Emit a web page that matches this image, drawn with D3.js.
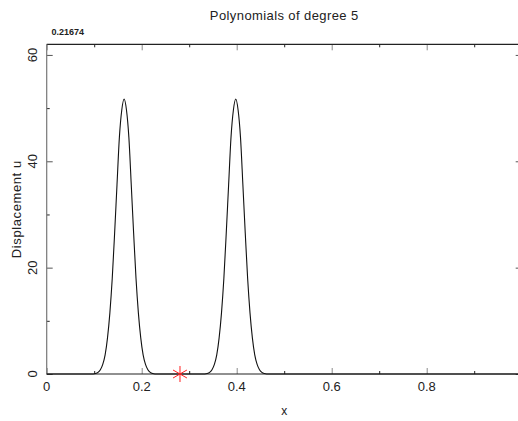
<!DOCTYPE html>
<html>
<head>
<meta charset="utf-8">
<script src="https://cdn.jsdelivr.net/npm/d3@7"></script>
<style>
  body { margin: 0; background: #fff; }
  svg { display: block; overflow: hidden; }
  text { font-family: "Liberation Sans", Arial, sans-serif; fill: #222; }
</style>
</head>
<body>
<svg id="chart"></svg>
<script>
// data
let xValues = [0,
    0.098, 0.103, 0.108, 0.113, 0.118, 0.123, 0.128, 0.133, 0.138, 0.143, 0.148, 0.153, 0.158,
    0.163, 0.168, 0.173, 0.178, 0.183, 0.188, 0.193, 0.198, 0.203, 0.208, 0.213, 0.218, 0.223, 0.228,
    0.333, 0.338, 0.343, 0.348, 0.353, 0.358, 0.363, 0.368, 0.373, 0.378, 0.383, 0.388, 0.393,
    0.398, 0.403, 0.408, 0.413, 0.418, 0.423, 0.428, 0.433, 0.438, 0.443, 0.448, 0.453, 0.458, 0.463,
    1];
let uValues = [0,
    0, 0.08, 0.3, 0.8, 1.8, 3.6, 6.8, 11.5, 18, 26.5, 35.6, 44.5, 49.6,
    51.7, 49.6, 44.5, 35.6, 26.5, 18, 11.5, 6.8, 3.6, 1.8, 0.8, 0.3, 0.08, 0,
    0, 0.08, 0.3, 0.8, 1.8, 3.6, 6.8, 11.5, 18, 26.5, 35.6, 44.5, 49.6,
    51.7, 49.6, 44.5, 35.6, 26.5, 18, 11.5, 6.8, 3.6, 1.8, 0.8, 0.3, 0.08, 0,
    0];
let markerX = [0.2806];
let markerU = [0];
let xMajorTicks = [0, 0.2, 0.4, 0.6, 0.8, 1];
let xMinorTicks = [0.1, 0.3, 0.5, 0.7, 0.9];
let yMajorTicks = [0, 20, 40, 60];
let yMinorTicks = [10, 30, 50];
let title = "Polynomials of degree 5";
let cornerText = "0.21674";

let width = 518, height = 421,
    box = {left: 46.7, right: 521.7, top: 44.3, bottom: 374};

let svg = d3.select("#chart").attr("width", width).attr("height", height);

let xScale = d3.scaleLinear().domain([0, 1]).range([box.left, box.right]);
let yScale = d3.scaleLinear().domain([0, 62]).range([box.bottom, box.top]);

// inward ticks, majors grey and longer, minors black and short
function tickAxis(axisFn, scale, ticks, size, color, y) {
    let g = svg.append("g")
        .attr("transform", y)
        .call(axisFn(scale).tickValues(ticks).tickSize(size).tickFormat(""));
    g.select(".domain").remove();
    g.selectAll("line").attr("stroke", color).attr("stroke-width", 1);
    return g;
}
tickAxis(d3.axisBottom, xScale, xMajorTicks, -6, "#8a8a8a", "translate(0," + box.bottom + ")");
tickAxis(d3.axisBottom, xScale, xMinorTicks, -3, "#222", "translate(0," + box.bottom + ")");
tickAxis(d3.axisTop, xScale, xMajorTicks, -6, "#8a8a8a", "translate(0," + box.top + ")");
tickAxis(d3.axisTop, xScale, xMinorTicks, -3, "#222", "translate(0," + box.top + ")");
tickAxis(d3.axisLeft, yScale, yMajorTicks, -6, "#555", "translate(" + box.left + ",0)");
tickAxis(d3.axisLeft, yScale, yMinorTicks, -3, "#222", "translate(" + box.left + ",0)");
tickAxis(d3.axisRight, yScale, yMajorTicks, -6, "#555", "translate(" + box.right + ",0)");
tickAxis(d3.axisRight, yScale, yMinorTicks, -3, "#222", "translate(" + box.right + ",0)");

// frame
svg.append("line").attr("x1", box.left).attr("x2", box.right).attr("y1", box.top).attr("y2", box.top)
    .attr("stroke", "#222").attr("stroke-width", 1.2);
svg.append("line").attr("x1", box.left).attr("x2", box.right).attr("y1", box.bottom).attr("y2", box.bottom)
    .attr("stroke", "#222").attr("stroke-width", 1.2);
svg.append("line").attr("x1", box.left).attr("x2", box.left).attr("y1", box.top).attr("y2", box.bottom)
    .attr("stroke", "#777").attr("stroke-width", 1.2);

// tick labels
svg.append("g").selectAll("text")
    .data(xMajorTicks.slice(0, 5))
    .enter().append("text")
    .attr("x", d => xScale(d))
    .attr("y", 391)
    .attr("text-anchor", "middle")
    .style("font-size", "13px")
    .text(d => d3.format("")(d));

svg.append("g").selectAll("text")
    .data(yMajorTicks)
    .enter().append("text")
    .attr("transform", d => "translate(37," + yScale(d) + ") rotate(-90)")
    .attr("text-anchor", "middle")
    .style("font-size", "13px")
    .text(d => d);

// curve
let points = xValues.map((x, i) => [x, uValues[i]]);
let line = d3.line()
    .x(d => xScale(d[0]))
    .y(d => yScale(d[1]))
    .curve(d3.curveMonotoneX);

svg.append("path")
    .datum(points)
    .attr("d", line)
    .attr("fill", "none")
    .attr("stroke", "#111")
    .attr("stroke-width", 1.1);

// marker
svg.selectAll(".marker")
    .data(markerX.map((x, i) => [x, markerU[i]]))
    .enter().append("path")
    .attr("class", "marker")
    .attr("transform", d => "translate(" + xScale(d[0]) + "," + yScale(d[1]) + ")")
    .attr("d", d3.symbol(d3.symbolAsterisk, 181))
    .attr("fill", "none")
    .attr("stroke", "#ff2020")
    .attr("stroke-width", 1);

// titles
svg.append("text")
    .attr("x", (box.left + box.right) / 2)
    .attr("y", 19.5)
    .attr("text-anchor", "middle")
    .style("font-size", "13px")
    .style("letter-spacing", "0.4px")
    .text(title);

svg.append("text")
    .attr("x", 51.5)
    .attr("y", 35)
    .style("font-size", "9px")
    .style("font-weight", "bold")
    .text(cornerText);

svg.append("text")
    .attr("x", (box.left + box.right) / 2)
    .attr("y", 415)
    .attr("text-anchor", "middle")
    .style("font-size", "12px")
    .text("x");

svg.append("text")
    .attr("transform", "translate(20.5," + (box.top + box.bottom) / 2 + ") rotate(-90)")
    .attr("text-anchor", "middle")
    .style("font-size", "13px")
    .style("letter-spacing", "0.6px")
    .text("Displacement u");
</script>
</body>
</html>
